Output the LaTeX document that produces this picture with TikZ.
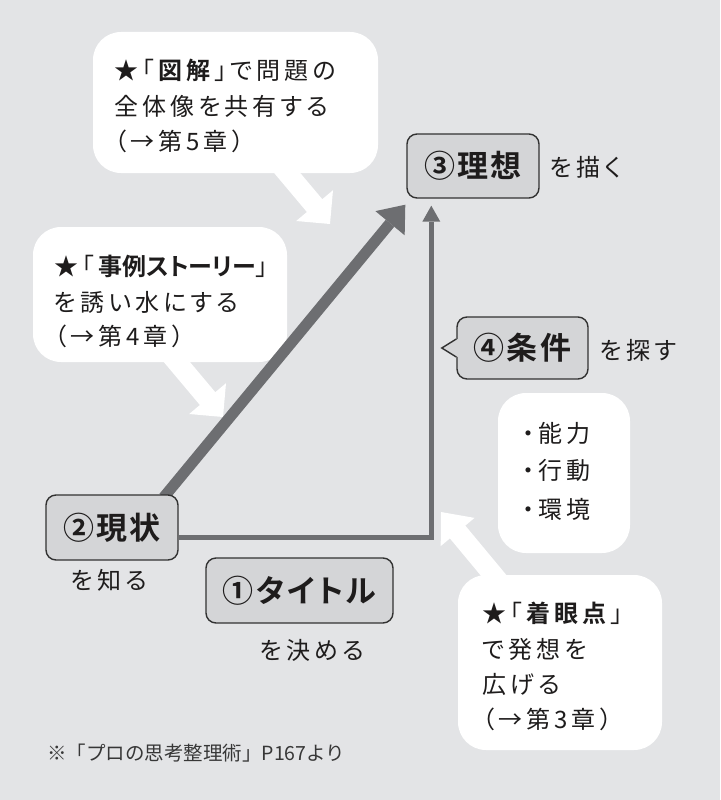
\documentclass[tikz,border=0pt]{standalone}
\usepackage{fontspec}
\setmainfont{Noto Sans CJK JP}[BoldFont={Noto Sans CJK JP Bold}, LetterSpace=17, RawFeature=+palt]
\newfontfamily\notefont{Noto Sans CJK JP}
\newfontfamily\lblfont{Noto Sans CJK JP Bold}[LetterSpace=8, RawFeature=+palt]
\usetikzlibrary{arrows.meta,calc}
\pgfdeclarelayer{back}
\pgfdeclarelayer{mid}
\pgfsetlayers{back,mid,main}
\definecolor{bgc}{RGB}{227,228,230}
\definecolor{nfill}{RGB}{212,213,215}
\definecolor{bord}{RGB}{50,50,50}
\definecolor{connc}{RGB}{109,110,113}
\definecolor{ink}{RGB}{30,28,28}
\definecolor{notec}{RGB}{55,55,55}
\begin{document}
\begin{tikzpicture}[x=1pt,y=-1pt,
  gnode/.style={draw=bord, line width=1.4pt, fill=nfill, rounded corners=10pt, inner sep=0pt,
    font=\fontsize{31}{36}\lblfont, text=ink},
  txt/.style={inner sep=0pt, anchor=base west, text=ink, font=\fontsize{24}{30}\selectfont},
  callout/.style={fill=white, rounded corners=28pt},
  fatarrow/.style={fill=white},
  conn/.style={draw=connc}
]
\begin{pgfonlayer}{back}
\fill[bgc] (0,0) rectangle (720,800);
% callout boxes
\fill[callout] (93,32) rectangle (378,173);
\fill[callout] (33,227) rectangle (287,362);
\fill[callout] (498,393) rectangle (630,553);
\fill[callout] (458,575) rectangle (662,750);
% white fat arrows
\fill[fatarrow] (330,224) -- (333,190.2) -- (322.3,199.2) -- (264.4,130.3) -- (249,143.1) -- (306.9,212) -- (296.2,221) -- cycle;
\fill[fatarrow] (223,417) -- (226,383.2) -- (215.3,392.2) -- (157.4,323.3) -- (142,336.1) -- (199.9,405) -- (189.2,414) -- cycle;
\fill[fatarrow] (441,512) -- (474.5,517.9) -- (465.3,525.6) -- (522.9,594.9) -- (507.5,607.7) -- (449.9,538.4) -- (440.7,546.1) -- cycle;
\end{pgfonlayer}
\useasboundingbox (0,0) rectangle (720,800);

% main nodes
\node[gnode, minimum width=132pt, minimum height=64pt] (n3) at (473,166) {③理想};
\node[gnode, minimum width=131pt, minimum height=62pt] (n4) at (522.5,348) {④条件};
\node[gnode, minimum width=132pt, minimum height=65pt] (n2) at (112,527.5) {②現状};
\node[gnode, minimum width=187pt, minimum height=65pt] (n1) at (299.5,590.5) {①タイトル};

% pointer of n4
\fill[nfill] ($(n4.west)+(-14.5,0)$) -- ($(n4.west)+(1.5,-9)$) -- ($(n4.west)+(1.5,9)$) -- cycle;
\draw[draw=bord, line width=1.4pt, line join=miter] ($(n4.west)+(0,-9)$) -- ($(n4.west)+(-14.5,0)$) -- ($(n4.west)+(0,9)$);

% connectors
\coordinate (dstart) at ($(n2.north east)+(-15,3)$);
\coordinate (dtip) at ($(n3.south west)+(-1,6)$);
\coordinate (vtip) at ($(n3.south west)+(25,7)$);
\begin{pgfonlayer}{mid}
\draw[conn, line width=11pt, -{Triangle[length=24pt,width=38pt,line width=0pt]}] (dstart) -- (dtip);
\draw[conn, line width=5pt, -{Triangle[length=16pt,width=18pt,line width=0pt]}] ($(n2.east)+(0,10)$) -| (vtip);
\end{pgfonlayer}

% side labels
\node[txt] (l3) at (550,176) {を描く};
\node[txt] (l4) at (600,359) {を探す};
\node[txt] (l2) at (71,589) {を知る};
\node[txt] (l1) at (260,659) {を決める};

% callout texts
\node[txt] (c1a) at (114,80) {★「\textbf{図解}」で問題の};
\node[txt] (c1b) at (114,115) {全体像を共有する};
\node[txt] (c1c) at (114,150) {（→第5章）};

\node[txt] (c2a) at (54,275) {★「\textbf{\addfontfeature{LetterSpace=0}事例ストーリー}」};
\node[txt] (c2b) at (54,311) {を誘い水にする};
\node[txt] (c2c) at (54,345) {（→第4章）};

\node[txt] (c3a) at (522,442) {・能力};
\node[txt] (c3b) at (522,479) {・行動};
\node[txt] (c3c) at (522,518) {・環境};

\node[txt] (c4a) at (482,622) {★「\textbf{着眼点}」};
\node[txt] (c4b) at (482,658) {で発想を};
\node[txt] (c4c) at (482,693) {広げる};
\node[txt] (c4d) at (482,728) {（→第3章）};

% footnote
\node[inner sep=0pt, anchor=base west, text=notec, font=\fontsize{19.5}{24}\notefont] (note) at (47,760) {※「プロの思考整理術」P167より};
\end{tikzpicture}
\end{document}
